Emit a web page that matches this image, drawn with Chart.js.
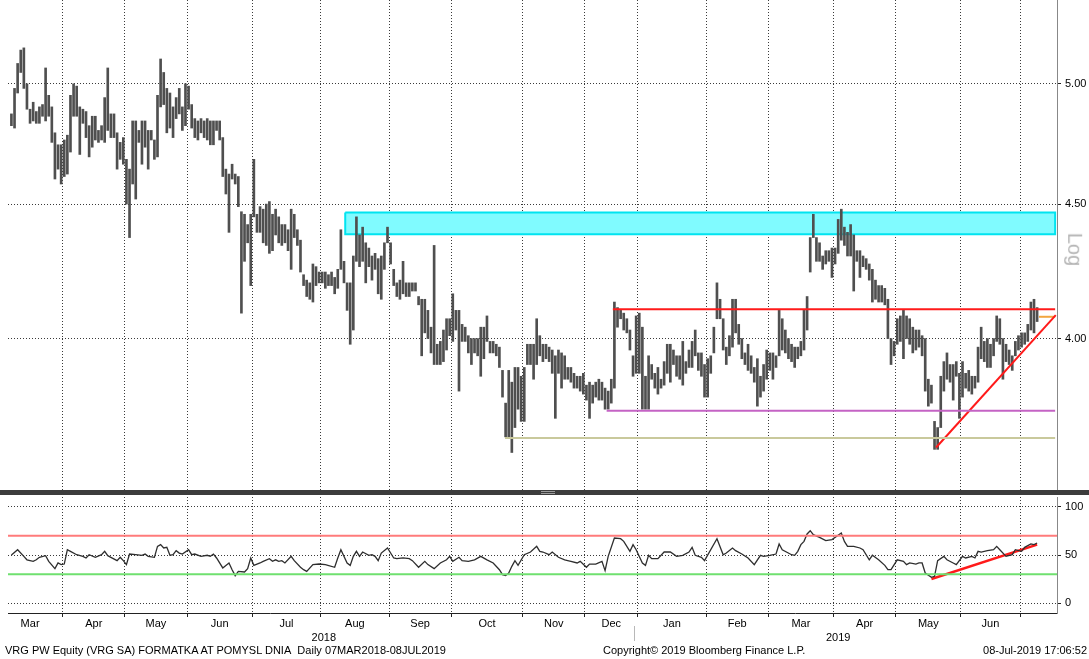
<!DOCTYPE html>
<html>
<head>
<meta charset="utf-8">
<script src="https://cdn.jsdelivr.net/npm/chart.js@4.4.1/dist/chart.umd.min.js"></script>
<style>
  body { margin: 0; background: #fff; width: 1089px; height: 659px; overflow: hidden; position: relative; font-family: 'Liberation Sans', Arial, sans-serif; }
  canvas { position: absolute; left: 0; }
  #price { top: 0; }
  #rsi { top: 494px; }
  .txt { position: absolute; font-size: 11px; line-height: 13px; color: #000; white-space: nowrap; }
  #sep { position: absolute; left: 0; top: 490px; width: 1089px; height: 5px; background: #3c3c3c; }
  #grip { position: absolute; left: 541px; top: 491px; width: 14px; height: 1px; border-top: 1px solid #9a9a9a; border-bottom: 1px solid #9a9a9a; }
  #log { position: absolute; left: 1058px; top: 238px; font-size: 20px; color: #b4b4b4; transform: rotate(90deg); transform-origin: center; }
  #yearbar { position: absolute; left: 634px; top: 626px; width: 1px; height: 15px; background: #b8b8b8; }
</style>
</head>
<body>
<canvas id="price" width="1089" height="490"></canvas>
<canvas id="rsi" width="1089" height="165"></canvas>
<div id="sep"></div>
<div id="grip"></div>
<div id="log">Log</div>
<div id="yearbar"></div>
<div class="txt" style="left:5px;top:644px">VRG PW Equity (VRG SA) FORMATKA AT POMYSL DNIA&nbsp; Daily 07MAR2018-08JUL2019</div>
<div class="txt" style="left:603px;top:644px">Copyright© 2019 Bloomberg Finance L.P.</div>
<div class="txt" style="right:2px;top:644px">08-Jul-2019 17:06:52</div>
<script>
// daily highs / lows, one per trading day from 07 Mar 2018 to 08 Jul 2019
const highs = [
  4.87, 4.98, 5.09, 5.15, 5.16, 5.00, 4.89, 4.92, 4.88, 4.90,
  4.91, 5.07, 4.95, 4.90, 4.79, 4.74, 4.74, 4.76, 4.78, 4.95,
  5.00, 4.99, 4.90, 4.89, 4.88, 4.82, 4.86, 4.86, 4.80, 4.82,
  4.94, 5.07, 4.87, 4.87, 4.79, 4.75, 4.77, 4.68, 4.64, 4.84,
  4.84, 4.80, 4.84, 4.84, 4.80, 4.80, 4.76, 4.95, 5.11, 5.05,
  4.98, 4.96, 4.90, 4.94, 4.98, 4.90, 5.00, 4.99, 4.91, 4.85,
  4.84, 4.85, 4.84, 4.85, 4.84, 4.84, 4.84, 4.84, 4.77, 4.64,
  4.62, 4.66, 4.62, 4.61, 4.47, 4.46, 4.42, 4.46, 4.68, 4.46,
  4.49, 4.48, 4.50, 4.51, 4.46, 4.48, 4.45, 4.42, 4.42, 4.40,
  4.48, 4.46, 4.40, 4.36, 4.23, 4.21, 4.20, 4.27, 4.26, 4.24,
  4.24, 4.24, 4.23, 4.24, 4.22, 4.25, 4.40, 4.28, 4.20, 4.20,
  4.30, 4.45, 4.38, 4.41, 4.35, 4.33, 4.30, 4.31, 4.29, 4.30,
  4.35, 4.41, 4.35, 4.25, 4.20, 4.21, 4.28, 4.20, 4.20, 4.20,
  4.20, 4.15, 4.14, 4.14, 4.10, 4.04, 4.34, 3.98, 3.99, 4.03,
  4.07, 4.07, 4.16, 4.10, 4.10, 4.05, 4.04, 4.01, 4.00, 4.00,
  4.00, 4.04, 4.04, 4.08, 3.99, 3.99, 3.98, 3.97, 3.89, 3.78,
  3.89, 3.85, 3.90, 3.90, 3.87, 3.90, 3.98, 3.98, 3.98, 4.07,
  4.01, 3.98, 3.98, 3.97, 3.96, 3.94, 3.96, 3.95, 3.94, 3.90,
  3.90, 3.88, 3.87, 3.87, 3.88, 3.84, 3.85, 3.84, 3.85, 3.86,
  3.85, 3.83, 3.82, 3.86, 4.13, 4.11, 4.10, 4.09, 4.07, 4.03,
  3.94, 4.08, 4.09, 4.04, 3.87, 3.94, 3.91, 3.88, 3.90, 3.86,
  3.92, 3.98, 3.98, 3.96, 3.94, 3.94, 3.99, 3.92, 3.96, 3.99,
  4.03, 3.95, 3.95, 3.91, 3.93, 3.94, 4.04, 4.20, 4.14, 4.07,
  3.97, 4.01, 4.14, 4.14, 4.05, 4.00, 3.95, 3.98, 3.94, 3.90,
  3.93, 3.87, 3.91, 3.96, 3.95, 3.95, 3.94, 4.10, 4.07, 4.03,
  4.00, 3.98, 3.97, 3.97, 3.99, 4.10, 4.15, 4.37, 4.46, 4.37,
  4.35, 4.30, 4.32, 4.32, 4.33, 4.33, 4.44, 4.48, 4.41, 4.39,
  4.42, 4.38, 4.32, 4.32, 4.30, 4.29, 4.27, 4.25, 4.21, 4.19,
  4.19, 4.18, 4.14, 4.00, 3.99, 4.07, 4.08, 4.10, 4.08, 4.07,
  4.04, 4.03, 4.03, 4.01, 4.00, 3.86, 3.84, 3.72, 3.70, 3.87,
  3.92, 3.95, 3.91, 3.91, 3.92, 3.88, 3.92, 3.88, 3.89, 3.87,
  3.87, 3.97, 4.04, 3.99, 4.00, 3.98, 4.00, 4.08, 4.07, 4.00,
  3.98, 3.96, 3.94, 3.99, 4.01, 4.02, 4.02, 4.05, 4.13, 4.14,
  4.11
];
const lows = [
  4.82, 4.81, 4.96, 5.05, 4.98, 4.89, 4.83, 4.84, 4.83, 4.83,
  4.86, 4.84, 4.86, 4.75, 4.60, 4.64, 4.58, 4.61, 4.62, 4.71,
  4.86, 4.86, 4.70, 4.83, 4.77, 4.69, 4.73, 4.76, 4.75, 4.76,
  4.75, 4.80, 4.77, 4.77, 4.64, 4.68, 4.66, 4.50, 4.37, 4.58,
  4.52, 4.75, 4.66, 4.73, 4.64, 4.76, 4.68, 4.69, 4.90, 4.91,
  4.79, 4.81, 4.77, 4.85, 4.87, 4.80, 4.82, 4.89, 4.81, 4.77,
  4.76, 4.79, 4.77, 4.76, 4.74, 4.74, 4.80, 4.76, 4.61, 4.54,
  4.39, 4.60, 4.58, 4.49, 4.09, 4.28, 4.35, 4.19, 4.45, 4.39,
  4.39, 4.35, 4.34, 4.31, 4.32, 4.38, 4.35, 4.34, 4.35, 4.32,
  4.25, 4.37, 4.34, 4.24, 4.19, 4.15, 4.14, 4.13, 4.19, 4.20,
  4.20, 4.18, 4.19, 4.19, 4.16, 4.18, 4.25, 4.20, 4.10, 3.98,
  4.03, 4.28, 4.26, 4.28, 4.20, 4.26, 4.21, 4.25, 4.16, 4.14,
  4.25, 4.35, 4.27, 4.19, 4.15, 4.14, 4.16, 4.15, 4.15, 4.17,
  4.17, 4.12, 3.94, 4.02, 4.00, 3.95, 3.91, 3.91, 3.91, 3.92,
  3.96, 4.01, 3.99, 4.03, 3.82, 3.99, 3.99, 3.95, 3.91, 3.95,
  3.94, 3.87, 3.93, 3.99, 3.95, 3.95, 3.94, 3.90, 3.80, 3.67,
  3.67, 3.62, 3.70, 3.76, 3.72, 3.72, 3.91, 3.91, 3.86, 3.91,
  3.94, 3.92, 3.93, 3.92, 3.88, 3.73, 3.88, 3.83, 3.86, 3.86,
  3.85, 3.83, 3.83, 3.82, 3.81, 3.79, 3.73, 3.78, 3.80, 3.79,
  3.79, 3.76, 3.76, 3.78, 3.83, 4.04, 4.07, 4.03, 4.02, 3.96,
  3.87, 3.88, 3.88, 3.76, 3.76, 3.76, 3.86, 3.83, 3.81, 3.83,
  3.84, 3.88, 3.85, 3.91, 3.87, 3.86, 3.84, 3.88, 3.90, 3.90,
  3.94, 3.89, 3.87, 3.80, 3.80, 3.88, 3.95, 4.07, 4.07, 3.96,
  3.91, 3.94, 3.97, 4.02, 3.98, 3.93, 3.91, 3.89, 3.88, 3.85,
  3.77, 3.80, 3.82, 3.86, 3.89, 3.86, 3.90, 3.94, 3.96, 3.95,
  3.93, 3.92, 3.90, 3.93, 3.94, 3.96, 4.03, 4.24, 4.37, 4.28,
  4.28, 4.25, 4.27, 4.28, 4.22, 4.27, 4.31, 4.36, 4.34, 4.30,
  4.30, 4.17, 4.28, 4.22, 4.26, 4.25, 4.21, 4.13, 4.14, 4.13,
  4.13, 4.12, 4.00, 3.91, 3.94, 3.98, 3.99, 3.93, 4.00, 3.98,
  3.95, 3.96, 3.97, 3.94, 3.82, 3.77, 3.78, 3.63, 3.63, 3.70,
  3.82, 3.86, 3.85, 3.79, 3.87, 3.73, 3.80, 3.83, 3.82, 3.81,
  3.83, 3.85, 3.93, 3.92, 3.90, 3.90, 3.94, 3.99, 3.98, 3.86,
  3.92, 3.91, 3.89, 3.94, 3.96, 3.97, 3.98, 3.99, 4.03, 4.02,
  4.06
];
// RSI readings: [trading-day index, value]
const rsiPoints = [
  [0, 50], [2, 55.5], [4, 48.6], [5, 45], [7, 43.4], [8, 45], [9, 47.6], [11, 49.3], [12, 43.4], [14, 35.8],
  [15, 41.7], [16, 40], [17, 40.6], [18, 55.5], [19, 53.8], [21, 50.3], [23, 48.6], [24, 46.9], [25, 50.3], [27, 47.6],
  [29, 50.3], [30, 53.8], [31, 49.3], [32, 47.6], [34, 44.1], [35, 47.6], [36, 44.1], [37, 40], [38, 51], [40, 50.3],
  [42, 49.7], [43, 51], [44, 48.6], [46, 47.6], [47, 59], [48, 60.8], [49, 57.3], [50, 58], [51, 49.7], [52, 50.3],
  [53, 54.5], [54, 52], [55, 51], [57, 55.5], [58, 50.3], [59, 51], [61, 48.6], [63, 49.7], [64, 48.6], [65, 51],
  [66, 46.9], [68, 36.5], [70, 41.7], [71, 34.7], [72, 28.5], [73, 33], [75, 32.3], [76, 35.8], [77, 46.9], [78, 39.2],
  [80, 41.7], [81, 43.4], [83, 46.2], [84, 43.4], [85, 45], [86, 43.4], [87, 44.1], [88, 41.7], [90, 48.6], [91, 44.1],
  [93, 37.2], [94, 34.7], [95, 33], [97, 40], [99, 40.6], [101, 40], [104, 37.2], [105, 46.9], [106, 55.5], [108, 41.7],
  [109, 39.2], [110, 48.6], [111, 53.8], [112, 48.6], [113, 53.1], [115, 49.7], [116, 50.3], [117, 48.6], [118, 44.1], [119, 52],
  [121, 57.3], [123, 46.9], [124, 46.2], [126, 46.9], [128, 46.2], [129, 44.1], [131, 37.2], [133, 43.4], [134, 40], [136, 35.8],
  [138, 41.7], [140, 45], [141, 48.6], [142, 43.4], [144, 47.6], [145, 44.1], [147, 43.4], [149, 45], [151, 48.6], [153, 45],
  [155, 41.7], [157, 34.7], [158, 29.5], [159, 28.5], [160, 31.2], [161, 38.2], [162, 44.1], [163, 39.2], [165, 50.3], [167, 53.1],
  [169, 59], [170, 53.8], [171, 53.1], [173, 50.3], [174, 53.1], [176, 47.6], [178, 45], [180, 43.4], [182, 41.7], [183, 43.4],
  [185, 37.2], [186, 40.6], [188, 40.6], [190, 43.4], [191, 33.7], [192, 48.6], [194, 67.7], [196, 67], [197, 64.2], [199, 53.8],
  [200, 60.8], [201, 55.5], [203, 41.7], [204, 39.2], [205, 49.7], [206, 46.2], [208, 46.2], [210, 53.1], [212, 53.1], [214, 48.6],
  [216, 49.7], [218, 53.1], [219, 58], [220, 49.7], [222, 47.6], [223, 44.1], [227, 67], [229, 50.3], [230, 52], [232, 57.3],
  [233, 54.5], [235, 51], [237, 46.9], [239, 40], [241, 49.7], [242, 48.6], [244, 49.7], [246, 51], [247, 61.5], [248, 55.5],
  [251, 50.3], [252, 49.7], [253, 53.8], [254, 60.8], [255, 64.2], [256, 71.9], [257, 75.3], [258, 71.2], [260, 68.4], [262, 64.9],
  [264, 66], [267, 72.9], [268, 64.2], [269, 59], [271, 59], [273, 57.3], [274, 55.5], [276, 45], [277, 49.7], [279, 45],
  [281, 39.2], [282, 34.7], [283, 34.7], [285, 45], [287, 43.4], [288, 40], [289, 41.7], [291, 40.6], [292, 41.7], [293, 41.7],
  [294, 31.2], [296, 26.7], [297, 27.8], [298, 44.1], [300, 48.6], [301, 45], [303, 41.7], [304, 40], [306, 48.6], [307, 46.9],
  [309, 48.6], [310, 46.9], [311, 53.8], [312, 53.1], [314, 54.5], [316, 55.5], [317, 59], [318, 55.5], [320, 48.6], [322, 50.3],
  [323, 55.5], [325, 53.8], [326, 58], [328, 61.5], [329, 60.8], [330, 62.5]
];

const monthNames = ['Mar', 'Apr', 'May', 'Jun', 'Jul', 'Aug', 'Sep', 'Oct', 'Nov', 'Dec', 'Jan', 'Feb', 'Mar', 'Apr', 'May', 'Jun'];
// month borders in trading-day units (first one is 1 Mar 2018, before the data starts)
const monthStarts = [-4.5, 16.5, 36.5, 56.5, 77.5, 99.5, 121.5, 141.5, 164.5, 184.5, 201.5, 223.5, 243.5, 264.5, 284.5, 305.5, 324.5];
const years = ['2018', '2019'];
const yearSpans = [[0, 201], [202, 330]];
const priceTicks = [4, 4.5, 5];
const rsiTicks = [0, 50, 100];

// drawn study levels (price / trading-day index)
const zoneTop = 4.467, zoneBottom = 4.383, zoneFrom = 107.4;
const resistLevel = 4.104, resistFrom = 193.5;
const midSupport = 3.755, midSupportFrom = 191.5;
const lowSupport = 3.666, lowSupportFrom = 158.8;
const trendStart = [297.5, 3.636], trendEnd = [336, 4.083];
const lastPrice = 4.077, lastFrom = 330.6;
const rsiTrendStart = [296, 25], rsiTrendEnd = [330, 60.8];
const rsiHigh = 70, rsiLow = 30;

const X_MIN = -1.1, X_MAX = 336.4;
const FONT = { family: "'Liberation Sans', Arial, sans-serif", size: 11 };
const DOT = [1, 2];

function seg(x0, y0, x1, y1, color, width) {
  return { type: 'line', data: [{ x: x0, y: y0 }, { x: x1, y: y1 }], borderColor: color, borderWidth: width, pointRadius: 0, fill: false, order: 0 };
}
const keepWidth = w => s => { s.width = w; s.paddingTop = 0; s.paddingBottom = 0; };
const keepHeight = h => s => { s.height = h; s.paddingLeft = 0; s.paddingRight = 0; };
const tickAt = vals => s => { s.ticks = vals.map(v => ({ value: v })); };

const monthMids = monthNames.map((m, i) => (monthStarts[i] + monthStarts[i + 1]) / 2);
const yearMids = yearSpans.map(s => (s[0] + s[1]) / 2);

const edge = X_MAX - 0.6;

new Chart(document.getElementById('price'), {
  type: 'bar',
  data: {
    datasets: [
      {
        type: 'line',
        data: [{ x: zoneFrom, y: zoneTop }, { x: edge, y: zoneTop }, { x: edge, y: zoneBottom }, { x: zoneFrom, y: zoneBottom }, { x: zoneFrom, y: zoneTop }],
        borderColor: '#00e4f0', borderWidth: 2, backgroundColor: '#80fbff', fill: 'shape', pointRadius: 0, order: 5
      },
      {
        type: 'bar',
        data: highs.map((h, i) => ({ x: i, y: [lows[i], h] })),
        backgroundColor: '#4f4f4f', barThickness: 2, grouped: false, order: 2
      },
      seg(resistFrom, resistLevel, edge, resistLevel, '#ff1a1a', 2),
      seg(midSupportFrom, midSupport, edge, midSupport, '#c463c4', 2),
      seg(lowSupportFrom, lowSupport, edge, lowSupport, '#c9c99c', 2),
      seg(trendStart[0], trendStart[1], trendEnd[0], trendEnd[1], '#ff1a1a', 2),
      seg(lastFrom, lastPrice, edge, lastPrice, '#f2a640', 2)
    ]
  },
  options: {
    responsive: false, animation: false, devicePixelRatio: 1, events: [],
    layout: { padding: { left: 8, right: 0, top: 0, bottom: 0 } },
    plugins: { legend: { display: false }, tooltip: { enabled: false } },
    scales: {
      x: {
        type: 'linear', min: X_MIN, max: X_MAX, offset: false,
        grid: { offset: false, color: '#3a3a3a', drawTicks: false },
        border: { display: false, dash: DOT },
        ticks: { display: false },
        afterBuildTicks: tickAt(monthStarts.slice(1)),
        afterFit: keepHeight(0)
      },
      y: {
        type: 'logarithmic', position: 'right', min: 3.503, max: 5.381,
        grid: { color: '#3a3a3a', tickLength: 4, tickColor: '#222', tickBorderDash: [] },
        border: { display: true, color: '#888', dash: DOT },
        ticks: { color: '#000', font: FONT, padding: 4, callback: v => Number(v).toFixed(2) },
        afterBuildTicks: tickAt(priceTicks),
        afterFit: keepWidth(32)
      }
    }
  }
});

new Chart(document.getElementById('rsi'), {
  type: 'line',
  data: {
    datasets: [
      seg(X_MIN, rsiHigh, X_MAX, rsiHigh, '#ff7b7b', 2),
      seg(X_MIN, rsiLow, X_MAX, rsiLow, '#6fe06f', 2),
      { data: rsiPoints.map(p => ({ x: p[0], y: p[1] })), borderColor: '#2e2e2e', borderWidth: 1.3, pointRadius: 0, tension: 0, fill: false },
      seg(rsiTrendStart[0], rsiTrendStart[1], rsiTrendEnd[0], rsiTrendEnd[1], '#ff1a1a', 2.5)
    ]
  },
  options: {
    responsive: false, animation: false, devicePixelRatio: 1, events: [],
    layout: { padding: { left: 8, right: 0, top: 3, bottom: 14 } },
    plugins: { legend: { display: false }, tooltip: { enabled: false } },
    scales: {
      x: {
        type: 'linear', min: X_MIN, max: X_MAX, weight: 0,
        grid: { color: '#3a3a3a', tickLength: 4, tickColor: '#222', tickBorderDash: [] },
        border: { display: true, color: '#222', dash: DOT },
        ticks: { display: false },
        afterBuildTicks: tickAt(monthStarts.slice(1)),
        afterFit: keepHeight(4)
      },
      xm: {
        type: 'linear', position: 'bottom', min: X_MIN, max: X_MAX, weight: 1,
        grid: { display: false, drawTicks: false },
        border: { display: false },
        ticks: { autoSkip: false, maxRotation: 0, padding: 0, color: '#000', font: FONT, callback: (v, i) => monthNames[i] },
        afterBuildTicks: tickAt(monthMids),
        afterFit: keepHeight(14)
      },
      xy: {
        type: 'linear', position: 'bottom', min: X_MIN, max: X_MAX, weight: 2,
        grid: { display: false, drawTicks: false },
        border: { display: false },
        ticks: { autoSkip: false, maxRotation: 0, padding: 0, color: '#000', font: FONT, callback: (v, i) => years[i] },
        afterBuildTicks: tickAt(yearMids),
        afterFit: keepHeight(14)
      },
      y: {
        type: 'linear', position: 'right', min: -10.4, max: 110.4,
        grid: { color: '#3a3a3a', tickLength: 4, tickColor: '#222', tickBorderDash: [] },
        border: { display: true, color: '#888', dash: DOT },
        ticks: { color: '#000', font: FONT, padding: 4, callback: v => String(v) },
        afterBuildTicks: tickAt(rsiTicks),
        afterFit: keepWidth(32)
      }
    }
  }
});
</script>
</body>
</html>
